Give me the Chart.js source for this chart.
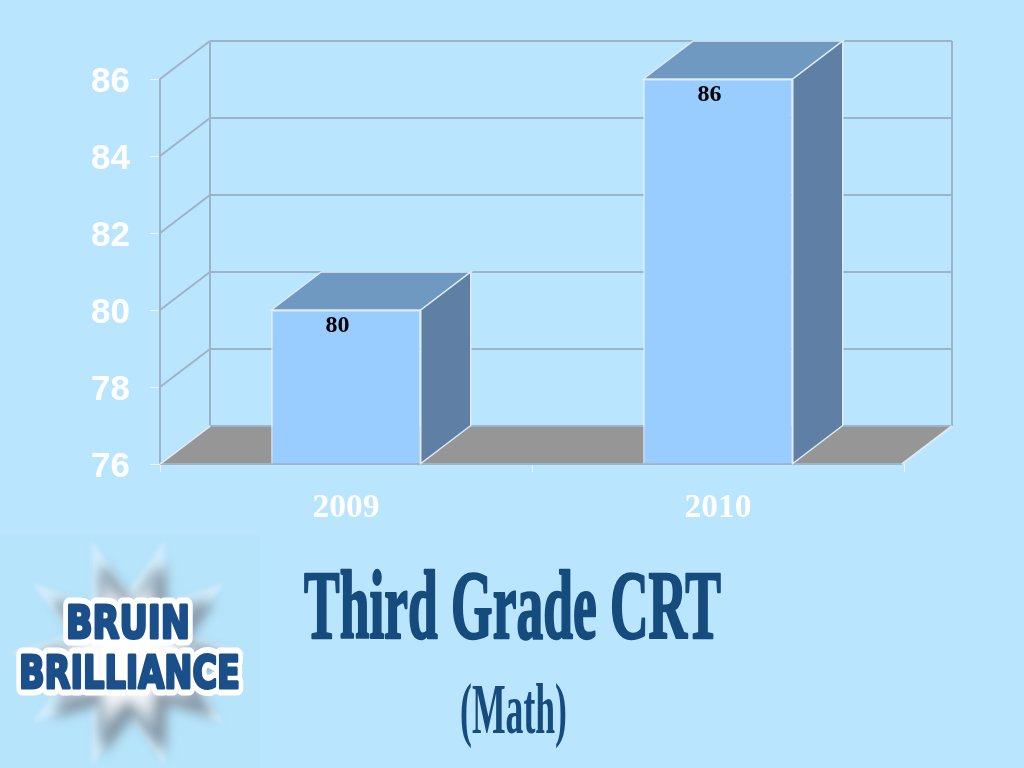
<!DOCTYPE html>
<html>
<head>
<meta charset="utf-8">
<title>Third Grade CRT</title>
<script src="https://cdn.jsdelivr.net/npm/chart.js@4"></script>
<style>
    html, body { margin: 0; padding: 0; background: #B9E5FF; }
    canvas { display: block; }
</style>
</head>
<body>
<canvas id="myChart" width="1024" height="768"></canvas>
<script>
const years = ['2009', '2010'];
const scores = [80, 86];
const yMin = 76;
const yMax = 86;
const yStep = 2;
const chartTitle = 'Third Grade CRT';
const chartSubtitle = '(Math)';
const logoLines = ['BRUIN', 'BRILLIANCE'];

// how far the back wall sits from the front of the box
const depthX = 50;
const depthY = 38;
const wallColor = '#9DB4C4';
const navy = '#164B7E';

function line(c, x1, y1, x2, y2) {
    c.beginPath();
    c.moveTo(x1, y1);
    c.lineTo(x2, y2);
    c.stroke();
}

function poly(c, pts, fill, stroke) {
    c.beginPath();
    pts.forEach(function (p, i) { i ? c.lineTo(p[0], p[1]) : c.moveTo(p[0], p[1]); });
    c.closePath();
    c.fillStyle = fill;
    c.fill();
    if (stroke) {
        c.strokeStyle = stroke;
        c.lineWidth = 1.5;
        c.stroke();
    }
}

// squeeze text to a given width, the title font is a condensed one
function fitText(c, text, x0, x1, baseline, font, color, heavy, outline) {
    c.save();
    c.font = font;
    c.textAlign = 'left';
    c.textBaseline = 'alphabetic';
    const sx = (x1 - x0) / c.measureText(text).width;
    c.translate(x0, baseline);
    c.scale(sx, 1);
    c.lineJoin = 'round';
    if (outline) {
        c.strokeStyle = outline;
        c.lineWidth = 15;
        c.strokeText(text, 0, 0);
    }
    if (heavy) {
        c.strokeStyle = color;
        c.lineWidth = heavy;
        c.strokeText(text, 0, 0);
    }
    c.fillStyle = color;
    c.fillText(text, 0, 0);
    c.restore();
}

function starPath(c, cx, cy, outer, inner) {
    c.beginPath();
    for (let i = 0; i < 20; i++) {
        const a = (i * Math.PI) / 10 - Math.PI / 2 + Math.PI / 10;
        const r = i % 2 === 0 ? outer : inner;
        const x = cx + Math.cos(a) * r;
        const y = cy + Math.sin(a) * r;
        i ? c.lineTo(x, y) : c.moveTo(x, y);
    }
    c.closePath();
}

const box3d = {
    id: 'box3d',
    beforeDatasetsDraw(chart) {
        const c = chart.ctx;
        const xs = chart.scales.x;
        const ys = chart.scales.y;
        const left = xs.left, right = xs.right - 2;
        const bottom = ys.getPixelForValue(yMin);
        const top = ys.getPixelForValue(yMax);
        c.save();
        poly(c, [[left, bottom], [right, bottom], [right + depthX, bottom - depthY], [left + depthX, bottom - depthY]], '#969696');
        c.strokeStyle = wallColor;
        c.lineWidth = 2;
        ys.ticks.forEach(function (t) {
            const y = ys.getPixelForValue(t.value);
            line(c, left, y, left + depthX, y - depthY);
            line(c, left + depthX, y - depthY, right + depthX, y - depthY);
        });
        line(c, left, top, left, bottom);
        line(c, left + depthX, top - depthY, left + depthX, bottom - depthY);
        line(c, right + depthX, top - depthY, right + depthX, bottom - depthY);
        line(c, left, bottom, right, bottom);
        c.strokeStyle = '#DDEBF3';
        line(c, left, bottom, left + depthX, bottom - depthY);
        line(c, right, bottom, right + depthX, bottom - depthY);
        c.restore();
    },
    afterDatasetsDraw(chart) {
        const c = chart.ctx;
        c.save();
        chart.getDatasetMeta(0).data.forEach(function (bar, i) {
            const l = bar.x - bar.width / 2;
            const r = bar.x + bar.width / 2;
            poly(c, [[l, bar.y], [r, bar.y], [r + depthX, bar.y - depthY], [l + depthX, bar.y - depthY]], '#7099C2', '#DCEBF5');
            poly(c, [[r, bar.y], [r + depthX, bar.y - depthY], [r + depthX, bar.base - depthY], [r, bar.base]], '#5F7FA5', '#DCEBF5');
            c.fillStyle = '#000';
            c.font = 'bold 24px "Liberation Serif"';
            c.textAlign = 'center';
            c.textBaseline = 'middle';
            c.fillText(String(scores[i]), bar.x - 8.5, bar.y + 16);
        });
        c.restore();
    },
    afterDraw(chart) {
        const c = chart.ctx;
        fitText(c, chartTitle, 304, 721, 638, 'bold 97px "Liberation Serif"', navy, 2.5);
        fitText(c, chartSubtitle, 460, 567, 733, 'bold 72px "Liberation Serif"', navy);

        // logo: soft star on a slightly different patch
        c.save();
        c.fillStyle = '#B6E4FA';
        c.fillRect(0, 535, 260, 233);
        const cx = 128, cy = 653;
        c.filter = 'blur(2px)';
        c.fillStyle = '#CFECFB';
        starPath(c, cx, cy, 118, 62);
        c.fill();
        c.filter = 'blur(6px)';
        c.fillStyle = '#7F93A3';
        starPath(c, cx + 6, cy + 6, 100, 56);
        c.fill();
        const g = c.createRadialGradient(cx, cy, 20, cx, cy, 85);
        g.addColorStop(0, '#FFFFFF');
        g.addColorStop(0.45, '#F0F4F7');
        g.addColorStop(1, '#8FA5B5');
        c.fillStyle = g;
        starPath(c, cx, cy, 90, 46);
        c.fill();
        c.restore();

        fitText(c, logoLines[0], 66, 190, 638, 'bold 44px "DejaVu Sans"', '#1B4F8A', 3, '#FFFFFF');
        fitText(c, logoLines[1], 19, 240, 688, 'bold 44px "DejaVu Sans"', '#1B4F8A', 3, '#FFFFFF');
    }
};

const myChart = new Chart(document.getElementById('myChart'), {
    type: 'bar',
    data: {
        labels: years,
        datasets: [{
            data: scores,
            base: yMin,
            backgroundColor: '#99CCFF',
            borderColor: '#EAF4FB',
            borderWidth: 1.5,
            barPercentage: 0.402,
            categoryPercentage: 1,
            clip: false
        }]
    },
    options: {
        responsive: false,
        animation: false,
        layout: { padding: { left: 0, right: 120, top: 79, bottom: 244 } },
        plugins: {
            legend: { display: false },
            tooltip: { enabled: false }
        },
        scales: {
            x: {
                afterFit(s) { s.height = 60; },
                border: { display: false },
                grid: { drawOnChartArea: false, tickColor: '#E6F5FF', tickLength: 8 },
                ticks: {
                    color: '#FFFFFF',
                    padding: 16,
                    font: { family: '"Liberation Serif"', weight: 'bold', size: 33.5 }
                }
            },
            y: {
                min: yMin,
                max: yMax,
                afterFit(s) { s.width = 160; },
                border: { display: false },
                grid: { drawOnChartArea: false, tickColor: '#E6F5FF', tickLength: 10 },
                ticks: {
                    stepSize: yStep,
                    color: '#FFFFFF',
                    padding: 20,
                    labelOffset: 3,
                    font: { family: '"Liberation Sans"', weight: 'bold', size: 35 }
                }
            }
        }
    },
    plugins: [box3d]
});
</script>
</body>
</html>
